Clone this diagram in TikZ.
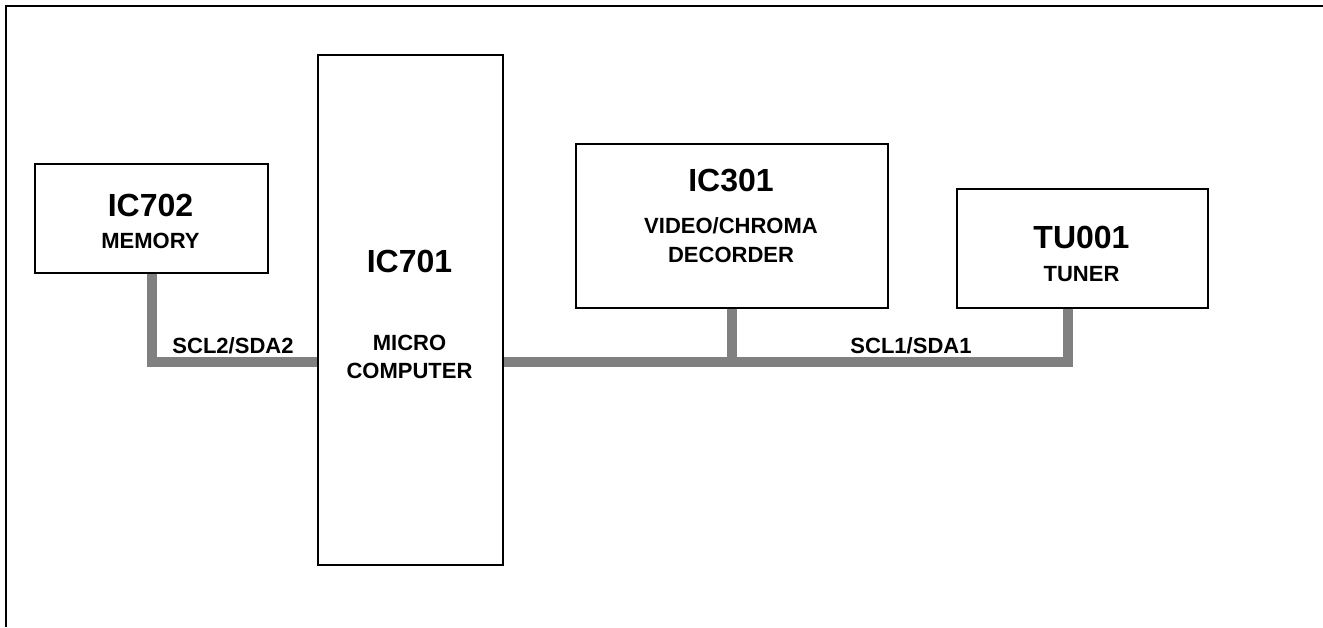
\documentclass[tikz,border=0pt]{standalone}
\usepackage{fontspec}
\setmainfont{Liberation Sans}
\usetikzlibrary{positioning,backgrounds}
\definecolor{busgray}{RGB}{128,128,128}

\begin{document}
\begin{tikzpicture}[x=0.5pt,y=-0.5pt,
    block/.style={draw, line width=1pt, fill=white, inner sep=0pt, anchor=north west},
    bus/.style={busgray, line width=5pt},
    big/.style={font=\fontsize{16}{18}\selectfont\bfseries, anchor=base},
    small/.style={font=\fontsize{11}{13}\selectfont\bfseries, anchor=base}]
        \useasboundingbox (0,0) rectangle (1323,627);
        % Frame
        \coordinate (FL) at (6,627);
        \coordinate (FC) at (6,6);
        \coordinate (FR) at (1323,6);
        \draw[line width=1pt] (FL) -- (FC) -- (FR);
        % Blocks
        \node[block, minimum width=116.5pt, minimum height=54.5pt] (ic702) at (34,163) {};
        \node[block, minimum width=92.5pt, minimum height=255pt] (ic701) at (317,54) {};
        \node[block, minimum width=156pt, minimum height=82pt] (ic301) at (575,143) {};
        \node[block, minimum width=125.5pt, minimum height=59.5pt] (tu001) at (956,188) {};
        % Label the blocks
        \node[big] (ic702a) at (150.5,216) {IC702};
        \node[small] (ic702b) at (150.5,248) {MEMORY};
        \node[big] (ic701a) at (409.5,272) {IC701};
        \node[small] (ic701b) at (409.5,350) {MICRO};
        \node[small] (ic701c) at (409.5,378) {COMPUTER};
        \node[big] (ic301a) at (731,191) {IC301};
        \node[small] (ic301b) at (731,233) {VIDEO/CHROMA};
        \node[small] (ic301c) at (731,262) {DECORDER};
        \node[big] (tu001a) at (1081.5,248) {TU001};
        \node[small] (tu001b) at (1081.5,281) {TUNER};
        % Buses
        \coordinate (busy) at (0,362);
        \coordinate (tutap) at (1068,307);
        \begin{pgfonlayer}{background}
          \draw[bus] (ic702.south) |- (ic701.west |- busy);
          \draw[bus] (ic701.east |- busy) -| (tutap);
          \draw[bus] (ic301.south) -- (ic301.south |- busy);
        \end{pgfonlayer}
        \node[small] (scl2) at (233,353) {SCL2/SDA2};
        \node[small] (scl1) at (911,353) {SCL1/SDA1};
\end{tikzpicture}
\end{document}
